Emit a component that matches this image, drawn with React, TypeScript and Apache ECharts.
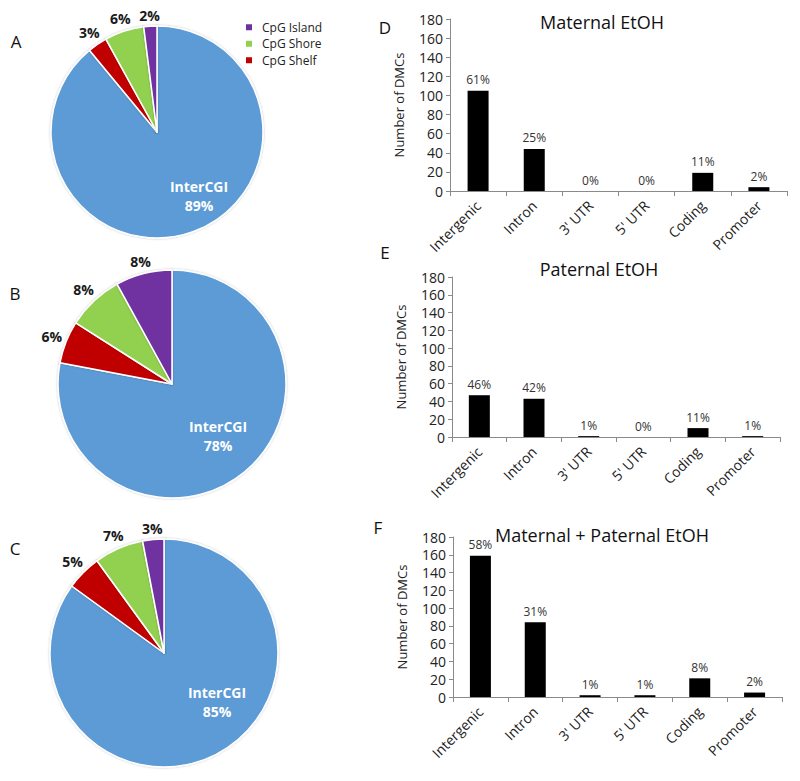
import React, { useEffect, useRef } from 'react';
import * as echarts from 'echarts';

// ---------- data ----------
const pieNames = ['InterCGI', 'CpG Shelf', 'CpG Shore', 'CpG Island'];
const pieA = [89, 3, 6, 2];
const pieB = [78, 6, 8, 8];
const pieC = [85, 5, 7, 3];
const legendNames = ['CpG Island', 'CpG Shore', 'CpG Shelf'];

const regions = ['Intergenic', 'Intron', "3' UTR", "5' UTR", 'Coding', 'Promoter'];
const countsD = [105, 44, 0, 0, 19, 4];
const pctD = ['61%', '25%', '0%', '0%', '11%', '2%'];
const countsE = [47, 43, 1, 0, 10, 1];
const pctE = ['46%', '42%', '1%', '0%', '11%', '1%'];
const countsF = [159, 84, 2, 2, 21, 5];
const pctF = ['58%', '31%', '1%', '1%', '8%', '2%'];

const barTitles = ['Maternal EtOH', 'Paternal EtOH', 'Maternal + Paternal EtOH'];
const panelLetters = ['A', 'B', 'C', 'D', 'E', 'F'];
const yMin = 0;
const yMax = 180;
const yStep = 20;
const yName = 'Number of DMCs';

// ---------- layout / style ----------
const FONT = "'Open Sans', 'DejaVu Sans', sans-serif";
const pieColors = ['#5b9bd5', '#c00000', '#92d050', '#7030a0'];
const pieLayouts = [
  { values: pieA, center: [157, 132], r: 106, inner: [42, 64] },
  { values: pieB, center: [172, 384], r: 114, inner: [46, 52] },
  { values: pieC, center: [164, 653], r: 114, inner: [53, 49] },
];
const barLayouts = [
  { counts: countsD, pct: pctD, left: 450, top: 19, width: 337, height: 172, title: [602, 22] },
  { counts: countsE, pct: pctE, left: 452, top: 277, width: 328, height: 160, title: [599, 269] },
  { counts: countsF, pct: pctF, left: 453, top: 537, width: 329, height: 160, title: [602, 535] },
];
const letterPos = [
  [16, 41], [15, 293], [15, 548], [385, 27], [385, 252], [378, 527],
];

export default function App() {
  const ref = useRef<HTMLDivElement>(null);
  useEffect(() => {
    if (!ref.current) return;
    const chart = echarts.init(ref.current, undefined, { renderer: 'svg' });

    const pieSeries = pieLayouts.map((pl) => {
      const total = pl.values.reduce((a, b) => a + b, 0);
      return {
        type: 'pie',
        center: pl.center,
        radius: pl.r,
        startAngle: 90,
        clockwise: true,
        avoidLabelOverlap: false,
        silent: true,
        itemStyle: {
          borderColor: '#ffffff',
          borderWidth: 1.5,
          shadowBlur: 2,
          shadowColor: 'rgba(0,0,0,0.25)',
        },
        labelLine: { show: false },
        label: {
          show: true,
          position: 'outside',
          formatter: '{c}%',
          fontFamily: FONT,
          fontWeight: 'bold',
          fontSize: 14,
          color: '#1a1a1a',
        },
        data: pieNames.map((n, i) => ({
          name: n,
          value: pl.values[i],
          itemStyle: { color: pieColors[i] },
          label:
            i === 0
              ? {
                  position: 'inside',
                  formatter: '{b}\n{c}%',
                  color: '#ffffff',
                  fontSize: 14,
                  lineHeight: 19,
                }
              : undefined,
        })),
        labelLayout: (p: any) => {
          const i = p.dataIndex;
          const [cx, cy] = pl.center;
          if (i === 0) {
            return { x: cx + pl.inner[0], y: cy + pl.inner[1], align: 'center', verticalAlign: 'middle' };
          }
          let before = 0;
          for (let k = 0; k < i; k++) before += pl.values[k];
          const mid = (before + pl.values[i] / 2) / total;
          const ang = ((90 - mid * 360) * Math.PI) / 180;
          const dx = Math.cos(ang);
          const dy = -Math.sin(ang);
          const w = p.labelRect.width;
          const h = p.labelRect.height;
          const d = pl.r + 3 + (Math.abs(dx) * w) / 2 + (Math.abs(dy) * h) / 2;
          return { x: cx + dx * d, y: cy + dy * d, align: 'center', verticalAlign: 'middle' };
        },
      };
    });

    const grids = barLayouts.map((b) => ({
      left: b.left,
      top: b.top,
      width: b.width,
      height: b.height,
      containLabel: false,
    }));
    const axisColor = '#8a8a8a';
    const xAxes = barLayouts.map((_, gi) => ({
      type: 'category',
      gridIndex: gi,
      data: regions,
      axisLine: { show: true, lineStyle: { color: axisColor, width: 1 } },
      axisTick: { show: true, length: 5, lineStyle: { color: axisColor } },
      axisLabel: {
        rotate: 45,
        margin: 12,
        fontSize: 14,
        fontFamily: FONT,
        color: '#222',
        interval: 0,
      },
    }));
    const yAxes = barLayouts.map((_, gi) => ({
      type: 'value',
      gridIndex: gi,
      min: yMin,
      max: yMax,
      interval: yStep,
      name: yName,
      nameLocation: 'middle',
      nameRotate: 90,
      nameGap: 45,
      nameTextStyle: { fontSize: 13, fontFamily: FONT, color: '#222' },
      axisLine: { show: true, lineStyle: { color: axisColor, width: 1 } },
      axisTick: { show: true, length: 4, lineStyle: { color: axisColor } },
      splitLine: { show: false },
      axisLabel: { fontSize: 14, fontFamily: FONT, color: '#222', margin: 7 },
    }));
    const barSeries = barLayouts.map((b, gi) => ({
      type: 'bar',
      xAxisIndex: gi,
      yAxisIndex: gi,
      data: b.counts,
      barWidth: 21,
      silent: true,
      itemStyle: { color: '#000000' },
      label: {
        show: true,
        position: 'top',
        distance: 5,
        formatter: (p: any) => b.pct[p.dataIndex],
        fontSize: 12,
        fontFamily: FONT,
        color: '#333',
      },
    }));

    const graphics: any[] = [];
    barLayouts.forEach((b, i) => {
      graphics.push({
        type: 'text',
        x: b.title[0],
        y: b.title[1],
        silent: true,
        style: {
          text: barTitles[i],
          fontSize: 18,
          fontFamily: FONT,
          fill: '#111',
          align: 'center',
          verticalAlign: 'middle',
        },
      });
    });
    panelLetters.forEach((l, i) => {
      graphics.push({
        type: 'text',
        x: letterPos[i][0],
        y: letterPos[i][1],
        silent: true,
        style: {
          text: l,
          fontSize: 17,
          fontFamily: FONT,
          fill: '#111',
          align: 'center',
          verticalAlign: 'middle',
        },
      });
    });

    chart.setOption({
      animation: false,
      backgroundColor: '#ffffff',
      legend: {
        data: legendNames,
        orient: 'vertical',
        left: 244,
        top: 21,
        padding: 0,
        itemWidth: 8,
        itemHeight: 8,
        itemGap: 4,
        icon: 'rect',
        selectedMode: false,
        textStyle: { fontSize: 12, fontFamily: FONT, color: '#222', lineHeight: 12.5, padding: [0, 0, 0, 4] },
      },
      grid: grids,
      xAxis: xAxes,
      yAxis: yAxes,
      series: [...pieSeries, ...barSeries],
      graphic: graphics,
    });
    return () => chart.dispose();
  }, []);
  return (
    <div
      ref={ref}
      style={{ position: 'absolute', left: 0, top: 0, width: 800, height: 781, background: '#fff' }}
    />
  );
}
